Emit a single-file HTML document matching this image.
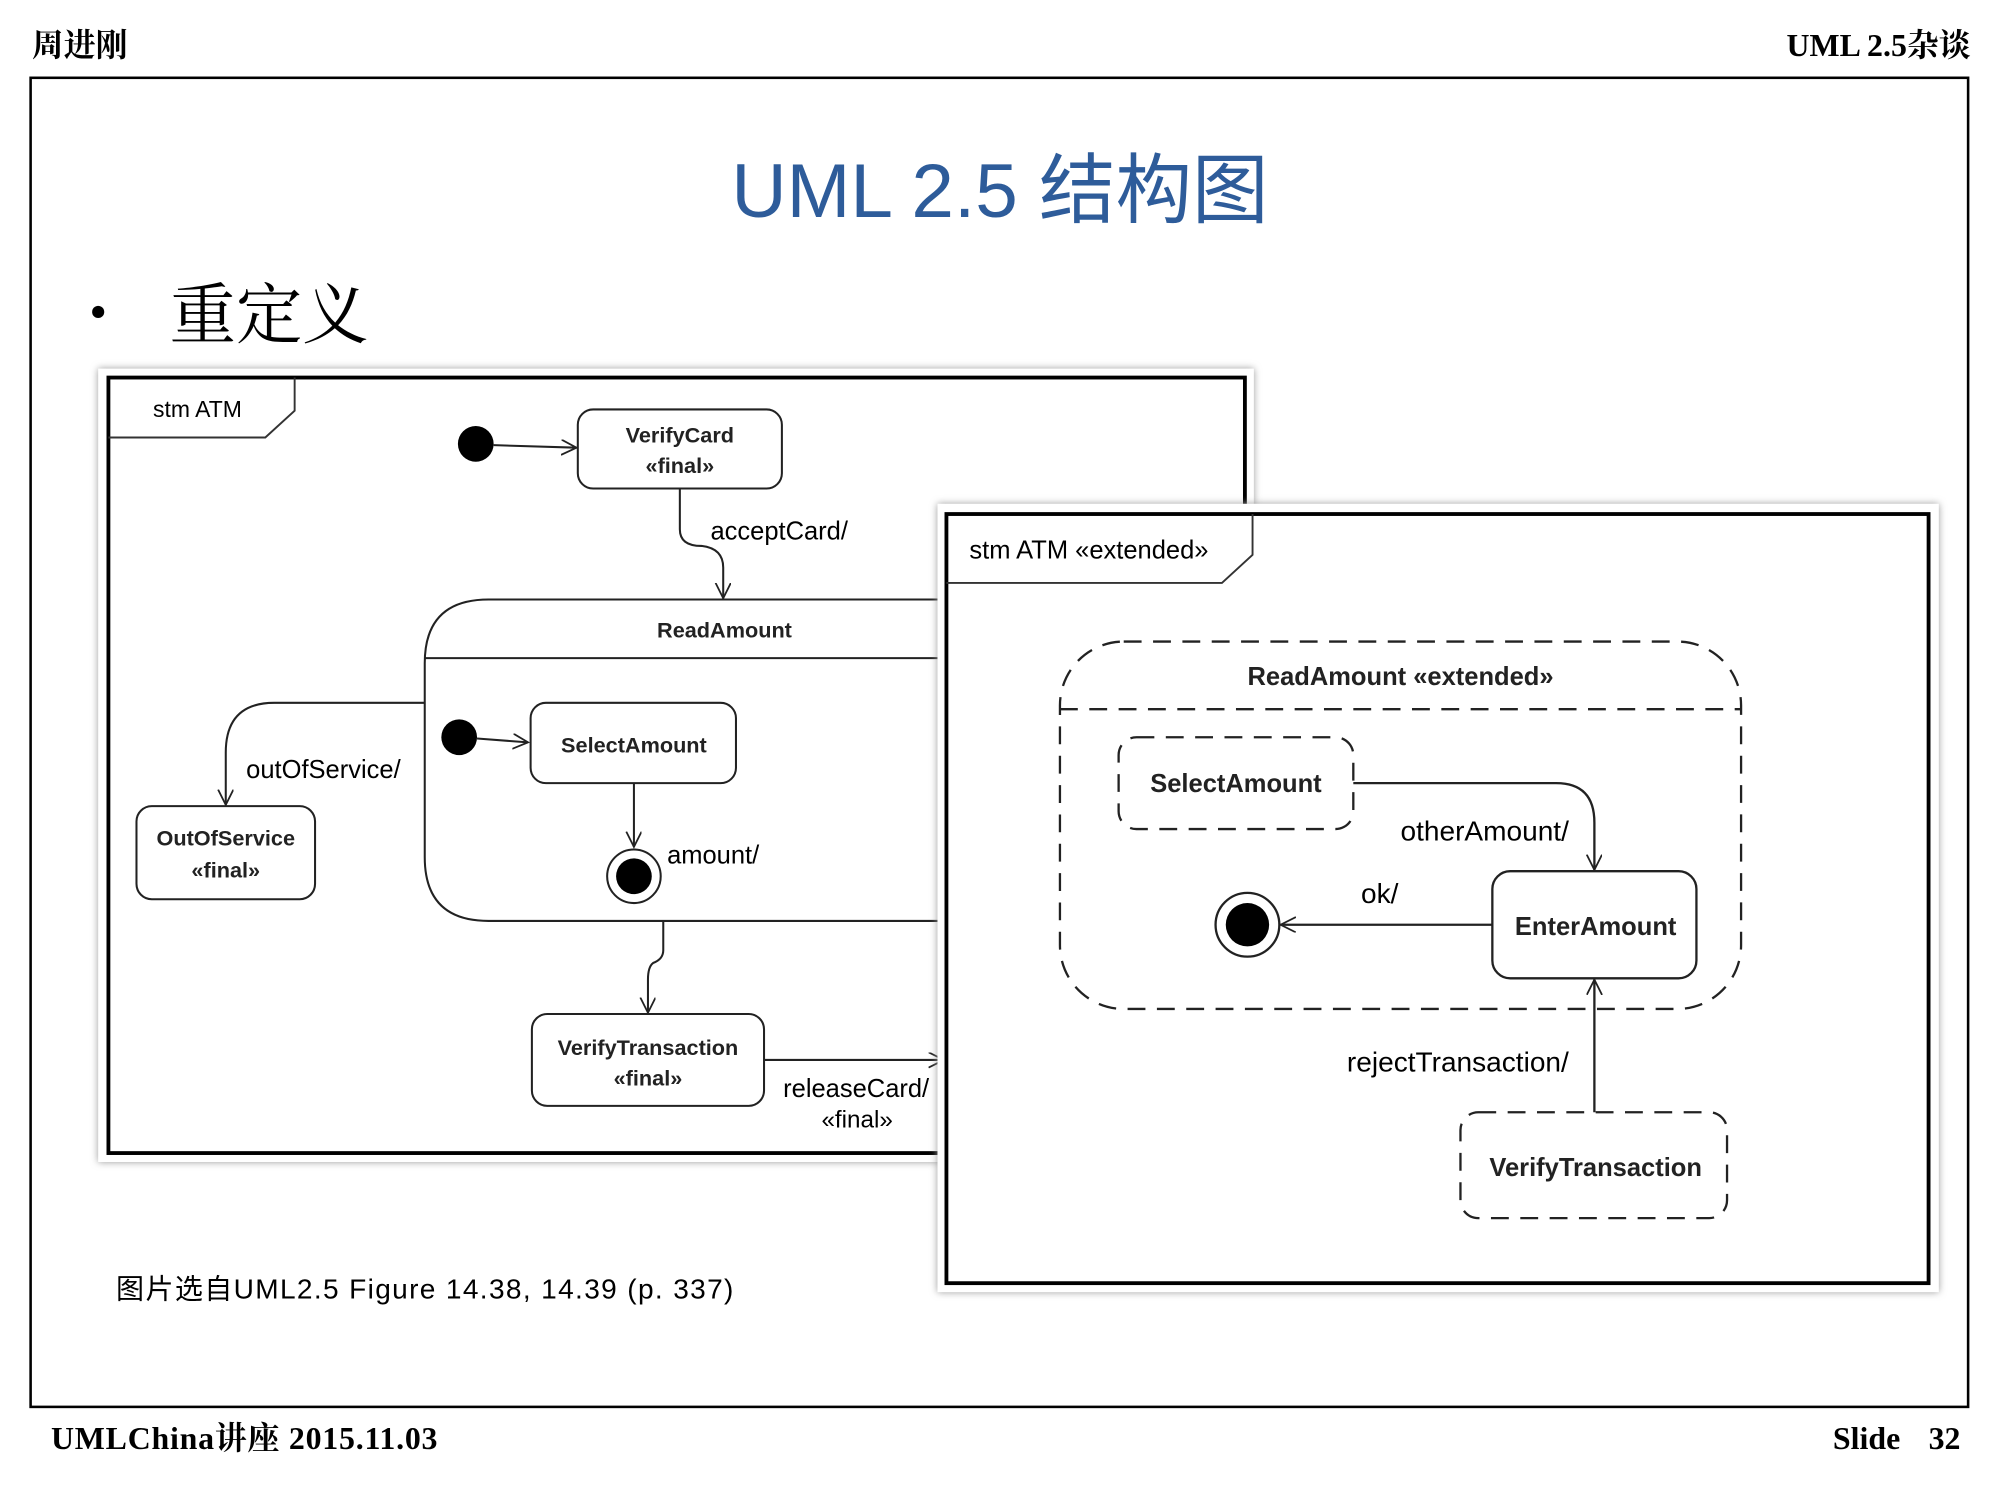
<!DOCTYPE html>
<html><head><meta charset="utf-8"><style>
html,body{margin:0;padding:0;background:#fff;}
svg{display:block;}
.s{font-family:"Liberation Sans","Noto Sans CJK SC",sans-serif;}
.r{font-family:"Liberation Serif","Noto Serif CJK SC",serif;}
</style></head><body>
<svg width="2000" height="1500" viewBox="0 0 1568 1176" xmlns="http://www.w3.org/2000/svg">
<defs>
<marker id="a" markerWidth="14" markerHeight="14" refX="12" refY="6" orient="auto" markerUnits="userSpaceOnUse">
<path d="M0,0 L12,6 L0,12" fill="none" stroke="#222" stroke-width="1.4"/></marker>
<filter id="sh"><feDropShadow dx="0" dy="0" stdDeviation="3" flood-color="#999"/></filter>
</defs>
<rect width="1568" height="1176" fill="#fff"/>
<text x="25" y="44" class="r" font-size="25" font-weight="bold">周进刚</text>
<text x="1545" y="44" class="r" font-size="25" font-weight="bold" text-anchor="end">UML 2.5杂谈</text>
<rect x="24" y="61" width="1519" height="1042" fill="none" stroke="#000" stroke-width="2"/>
<text x="784" y="170" class="s" font-size="60" fill="#2e5c9a" text-anchor="middle">UML 2.5 结构图</text>
<text x="70" y="258" class="r" font-size="40">•</text>
<text x="133" y="265" class="r" font-size="52">重定义</text>

<!-- left diagram -->
<rect x="77" y="289" width="906" height="622" fill="#fff" filter="url(#sh)"/>
<rect x="85" y="296" width="891" height="608" fill="#fff" stroke="#000" stroke-width="3"/>
<path d="M85,343 L208,343 L231,322 L231,296" fill="none" stroke="#333" stroke-width="1.5"/>
<text x="120" y="327" class="s" font-size="18">stm ATM</text>
<g stroke="#222" stroke-width="1.6" fill="none" class="s">
<line x1="387" y1="349" x2="452" y2="351" marker-end="url(#a)"/>
<rect x="453" y="321" width="160" height="62" rx="12"/>
<path d="M533,383 L533,415 Q533,428 550,428 Q567,430 567,445 L567,469" marker-end="url(#a)"/>
<path d="M740,470 L383,470 Q333,470 333,520 L333,672 Q333,722 383,722 L740,722"/>
<line x1="333" y1="516" x2="740" y2="516"/>
<path d="M333,551 L215,551 Q177,551 177,590 L177,631" marker-end="url(#a)"/>
<rect x="107" y="632" width="140" height="73" rx="12"/>
<line x1="374" y1="579" x2="414" y2="582" marker-end="url(#a)"/>
<rect x="416" y="551" width="161" height="63" rx="12"/>
<line x1="497" y1="614" x2="497" y2="664" marker-end="url(#a)"/>
<circle cx="497" cy="687" r="21"/>
<path d="M520,722 L520,745 Q520,752 512,755 Q508,758 508,768 L508,794" marker-end="url(#a)"/>
<rect x="417" y="795" width="182" height="72" rx="12"/>
<line x1="599" y1="831" x2="740" y2="831" marker-end="url(#a)"/>
</g>
<circle cx="373" cy="348" r="14"/>
<circle cx="360" cy="578" r="14"/>
<circle cx="497" cy="687" r="14"/>
<g class="s" font-size="17" font-weight="bold" text-anchor="middle" fill="#222">
<text x="533" y="347">VerifyCard</text><text x="533" y="371">«final»</text>
<text x="568" y="500">ReadAmount</text>
<text x="177" y="663">OutOfService</text><text x="177" y="688">«final»</text>
<text x="497" y="590">SelectAmount</text>
<text x="508" y="827">VerifyTransaction</text><text x="508" y="851">«final»</text>
</g>
<g class="s" font-size="20">
<text x="557" y="423">acceptCard/</text>
<text x="193" y="610">outOfService/</text>
<text x="523" y="677">amount/</text>
<text x="614" y="860">releaseCard/</text>
<text x="672" y="884" text-anchor="middle" font-size="19">«final»</text>
</g>

<!-- right diagram -->
<rect x="735" y="395" width="785" height="618" fill="#fff" filter="url(#sh)"/>
<rect x="742" y="403" width="770" height="603" fill="#fff" stroke="#000" stroke-width="3"/>
<path d="M742,457 L958,457 L982,435 L982,403" fill="none" stroke="#333" stroke-width="1.5"/>
<text x="760" y="438" class="s" font-size="20">stm ATM «extended»</text>
<g stroke="#222" stroke-width="1.8" fill="none">
<rect x="831" y="503" width="534" height="288" rx="50" stroke-dasharray="14,9"/>
<line x1="831" y1="556" x2="1365" y2="556" stroke-dasharray="14,9"/>
<rect x="877" y="578" width="184" height="72" rx="14" stroke-dasharray="14,9"/>
<path d="M1061,614 L1220,614 Q1250,614 1250,645 L1250,682" marker-end="url(#a)"/>
<rect x="1170" y="683" width="160" height="84" rx="14"/>
<line x1="1170" y1="725" x2="1004" y2="725" marker-end="url(#a)"/>
<circle cx="978" cy="725" r="25"/>
<rect x="1145" y="872" width="209" height="83" rx="14" stroke-dasharray="14,9"/>
<line x1="1250" y1="872" x2="1250" y2="768" marker-end="url(#a)"/>
</g>
<circle cx="978" cy="725" r="17"/>
<g class="s" font-size="20" font-weight="bold" text-anchor="middle" fill="#222">
<text x="1098" y="537">ReadAmount «extended»</text>
<text x="969" y="621">SelectAmount</text>
<text x="1251" y="733">EnterAmount</text>
<text x="1251" y="922">VerifyTransaction</text>
</g>
<g class="s" font-size="22">
<text x="1098" y="659">otherAmount/</text>
<text x="1067" y="708">ok/</text>
<text x="1056" y="840">rejectTransaction/</text>
</g>

<text x="91" y="1018" class="s" font-size="22" textLength="484" lengthAdjust="spacing">图片选自UML2.5 Figure 14.38, 14.39 (p. 337)</text>
<text x="40" y="1136" class="r" font-size="25" font-weight="bold" textLength="303" lengthAdjust="spacing">UMLChina讲座 2015.11.03</text>
<text x="1437" y="1136" class="r" font-size="25" font-weight="bold">Slide</text>
<text x="1537" y="1136" class="r" font-size="25" font-weight="bold" text-anchor="end">32</text>
</svg>
</body></html>
